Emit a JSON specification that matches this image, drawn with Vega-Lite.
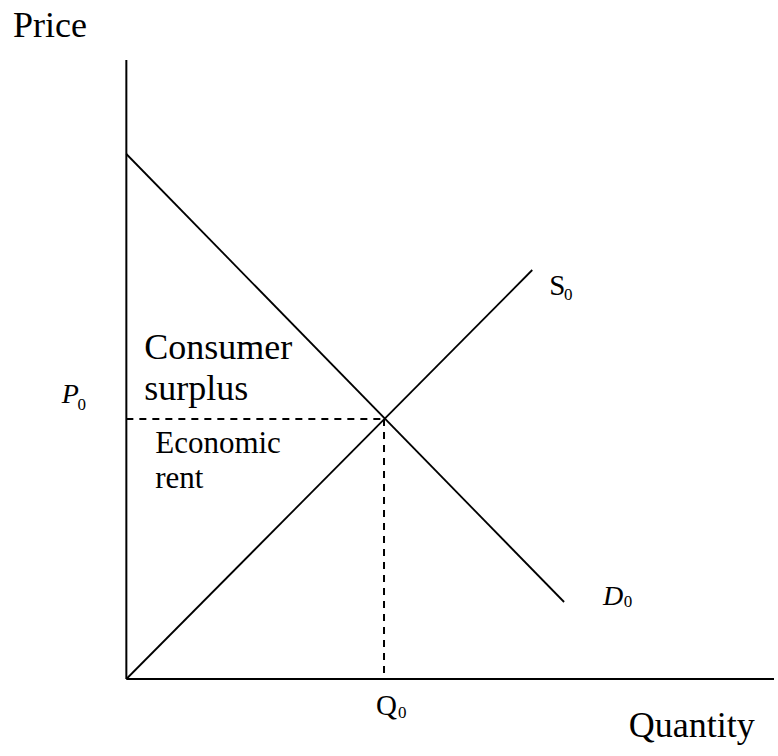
{
  "$schema": "https://vega.github.io/schema/vega-lite/v6.json",
  "width": 778,
  "height": 756,
  "autosize": {"type": "fit", "contains": "padding"},
  "padding": 0,
  "background": "white",
  "config": {"view": {"stroke": null}, "text": {"font": "'Liberation Serif', 'Times New Roman', Times, serif"}},
  "datasets": {
    "solid": [
      {"s": "yaxis", "o": 0, "x": 0, "y": 0},
      {"s": "yaxis", "o": 1, "x": 0, "y": 619},
      {"s": "xaxis", "o": 0, "x": 0, "y": 0},
      {"s": "xaxis", "o": 1, "x": 651, "y": 0}
    ],
    "curves": [
      {"s": "D0", "o": 0, "x": 0, "y": 525},
      {"s": "D0", "o": 1, "x": 440, "y": 77},
      {"s": "S0", "o": 0, "x": 0, "y": 0},
      {"s": "S0", "o": 1, "x": 408, "y": 409}
    ],
    "dashed": [
      {"s": "p", "o": 0, "x": 0, "y": 260},
      {"s": "p", "o": 1, "x": 259, "y": 260},
      {"s": "q", "o": 0, "x": 259, "y": 260},
      {"s": "q", "o": 1, "x": 259, "y": 0}
    ],
    "labels": [
      {"t": "Price", "x": -114, "y": 642, "fs": 36},
      {"t": "Quantity", "x": 505, "y": -58, "fs": 36},
      {"t": "Consumer", "x": 18, "y": 320, "fs": 36},
      {"t": "surplus", "x": 18, "y": 279, "fs": 36},
      {"t": "Economic", "x": 29, "y": 226, "fs": 31},
      {"t": "rent", "x": 29, "y": 191, "fs": 31},
      {"t": "S", "x": 425, "y": 384, "fs": 29},
      {"t": "Q", "x": 251, "y": -36, "fs": 29},
      {"t": "0", "x": -49, "y": 269, "fs": 17},
      {"t": "0", "x": 440, "y": 379, "fs": 17},
      {"t": "0", "x": 500, "y": 72, "fs": 17},
      {"t": "0", "x": 273, "y": -39, "fs": 17}
    ],
    "italic": [
      {"t": "P", "x": -65, "y": 276, "fs": 28},
      {"t": "D", "x": 479, "y": 74, "fs": 28}
    ]
  },
  "layer": [
    {
      "data": {"name": "solid"},
      "mark": {"type": "line", "color": "black", "strokeWidth": 2},
      "encoding": {
        "x": {"field": "x", "type": "quantitative", "scale": {"domain": [-127, 651], "nice": false, "zero": false}, "axis": null},
        "y": {"field": "y", "type": "quantitative", "scale": {"domain": [-77, 679], "nice": false, "zero": false}, "axis": null},
        "detail": {"field": "s"},
        "order": {"field": "o"}
      }
    },
    {
      "data": {"name": "curves"},
      "mark": {"type": "line", "color": "black", "strokeWidth": 1.8},
      "encoding": {
        "x": {"field": "x", "type": "quantitative"},
        "y": {"field": "y", "type": "quantitative"},
        "detail": {"field": "s"},
        "order": {"field": "o"}
      }
    },
    {
      "data": {"name": "dashed"},
      "mark": {"type": "line", "color": "black", "strokeWidth": 2, "strokeDash": [7, 6]},
      "encoding": {
        "x": {"field": "x", "type": "quantitative"},
        "y": {"field": "y", "type": "quantitative"},
        "detail": {"field": "s"},
        "order": {"field": "o"}
      }
    },
    {
      "data": {"name": "labels"},
      "mark": {"type": "text", "align": "left", "baseline": "alphabetic", "color": "black"},
      "encoding": {
        "x": {"field": "x", "type": "quantitative"},
        "y": {"field": "y", "type": "quantitative"},
        "text": {"field": "t"},
        "size": {"field": "fs", "type": "quantitative", "scale": null}
      }
    },
    {
      "data": {"name": "italic"},
      "mark": {"type": "text", "fontStyle": "italic", "align": "left", "baseline": "alphabetic", "color": "black"},
      "encoding": {
        "x": {"field": "x", "type": "quantitative"},
        "y": {"field": "y", "type": "quantitative"},
        "text": {"field": "t"},
        "size": {"field": "fs", "type": "quantitative", "scale": null}
      }
    }
  ]
}
